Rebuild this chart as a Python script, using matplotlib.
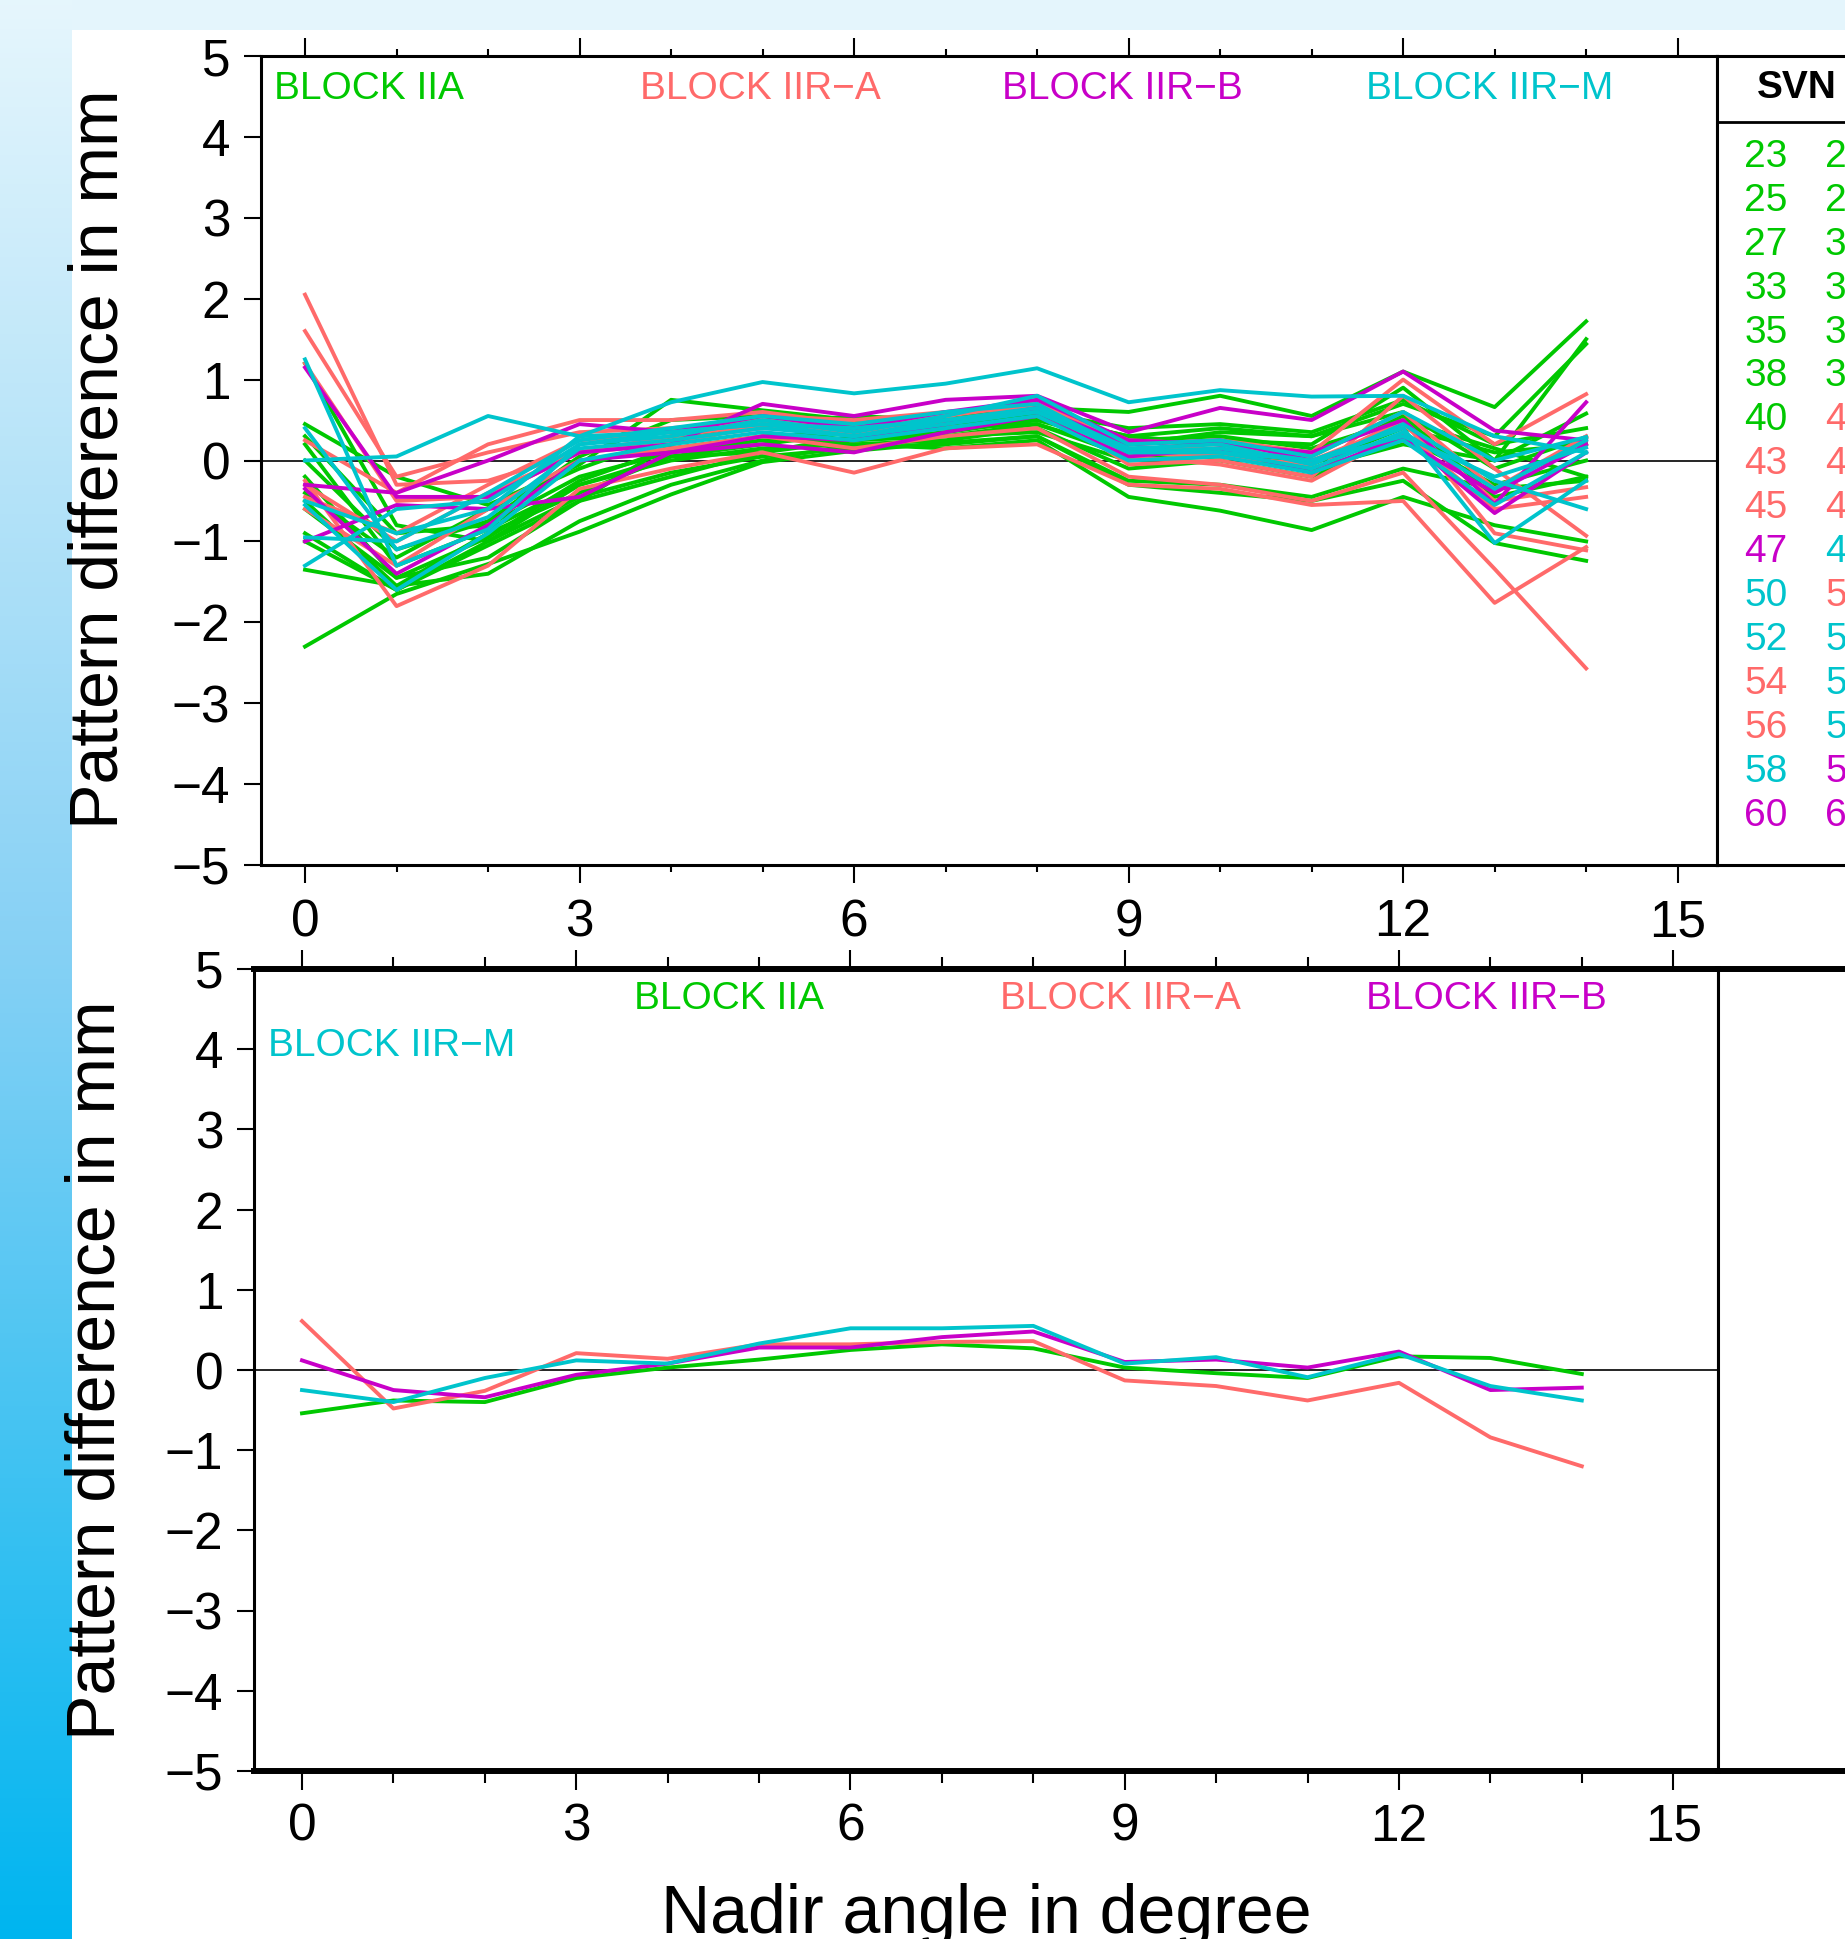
import matplotlib
matplotlib.use("Agg")
import matplotlib.pyplot as plt
import numpy as np
from matplotlib.patches import Rectangle

plt.rcParams['font.family'] = ['Liberation Sans', 'DejaVu Sans']

# nadir angles (deg)
nadir = list(range(15))

# block colours
block_colors = {"IIA": "#00c800", "IIR-A": "#ff6a6a", "IIR-B": "#c800c8", "IIR-M": "#00c4cc"}

# satellites shown in the top panel, with their block and pattern difference (mm)
svn_ids = [23, 24, 25, 26, 27, 30, 33, 34, 35, 36, 38, 39, 40,
           41, 43, 44, 45, 46, 51, 54, 56,
           47, 59, 60, 61,
           48, 50, 52, 53, 55, 57, 58]
svn_blocks = ["IIA"] * 13 + ["IIR-A"] * 8 + ["IIR-B"] * 4 + ["IIR-M"] * 7
svn_diff = [
    [-2.30, -1.65, -1.28, -0.88, -0.42, -0.02, 0.12, 0.22, 0.30, -0.30, -0.40, -0.50, -0.25, -1.02, -1.24],
    [0.45, -0.20, -0.55, -0.05, 0.75, 0.62, 0.50, 0.55, 0.65, 0.60, 0.80, 0.55, 1.10, 0.66, 1.72],
    [1.20, -0.80, -1.00, -0.30, 0.05, 0.20, 0.35, 0.40, 0.45, 0.10, 0.25, 0.20, 0.90, 0.00, 1.50],
    [0.30, -0.90, -0.80, -0.20, 0.10, 0.25, 0.25, 0.35, 0.50, 0.20, 0.35, 0.30, 0.70, 0.30, 1.44],
    [-0.50, -1.55, -1.40, -0.75, -0.30, 0.00, 0.20, 0.15, 0.25, -0.45, -0.62, -0.86, -0.45, -0.80, -1.00],
    [-1.35, -1.55, -0.90, -0.40, 0.05, 0.10, 0.30, 0.30, 0.35, 0.00, 0.05, -0.10, 0.20, 0.00, 0.58],
    [-0.40, -1.20, -0.60, -0.10, 0.30, 0.40, 0.45, 0.45, 0.55, 0.30, 0.40, 0.30, 0.60, -0.10, 0.29],
    [-0.20, -1.45, -0.95, -0.25, 0.15, 0.30, 0.35, 0.40, 0.50, 0.25, 0.30, 0.15, 0.50, 0.15, -0.20],
    [0.20, -1.30, -0.85, -0.30, 0.00, 0.15, 0.20, 0.25, 0.40, -0.10, 0.00, -0.20, 0.30, -0.30, 0.00],
    [-0.90, -1.60, -1.00, -0.45, -0.15, 0.05, 0.15, 0.20, 0.30, -0.25, -0.30, -0.45, -0.10, -0.35, -0.25],
    [-1.00, -1.60, -1.05, -0.50, -0.20, 0.10, 0.25, 0.30, 0.45, 0.05, 0.10, -0.05, 0.40, 0.10, 0.20],
    [0.00, -1.10, -0.75, 0.05, 0.50, 0.55, 0.40, 0.45, 0.60, 0.40, 0.45, 0.35, 0.75, 0.20, 0.40],
    [-0.60, -1.45, -1.20, -0.50, 0.20, 0.45, 0.55, 0.50, 0.55, 0.30, 0.20, 0.10, 0.55, -0.45, -0.20],
    [2.05, -0.30, -0.25, 0.10, 0.25, 0.40, 0.35, 0.45, 0.65, 0.15, 0.15, 0.00, 0.45, -0.50, -0.33],
    [1.60, -0.20, 0.10, 0.35, 0.40, 0.50, 0.40, 0.55, 0.75, 0.20, 0.25, 0.10, 1.00, 0.20, 0.82],
    [1.20, -0.50, -0.45, 0.10, 0.30, 0.45, 0.35, 0.45, 0.70, -0.05, 0.00, -0.20, 0.80, -0.10, -0.93],
    [-0.25, -1.80, -1.30, -0.35, -0.10, 0.10, -0.15, 0.15, 0.20, -0.30, -0.35, -0.55, -0.50, -1.76, -1.07],
    [-0.30, -1.00, -0.40, 0.10, 0.20, 0.45, 0.40, 0.55, 0.75, 0.10, 0.05, -0.05, 0.50, -0.90, -1.11],
    [-0.60, -1.30, -0.60, 0.00, 0.15, 0.30, 0.15, 0.30, 0.40, -0.20, -0.30, -0.50, -0.15, -1.34, -2.57],
    [0.25, -0.40, 0.20, 0.50, 0.50, 0.60, 0.45, 0.55, 0.70, 0.25, 0.20, 0.05, 0.60, -0.35, 0.30],
    [-0.45, -0.90, -0.30, 0.25, 0.35, 0.55, 0.50, 0.60, 0.65, 0.05, -0.05, -0.25, 0.35, -0.60, -0.45],
    [1.15, -0.45, -0.45, 0.10, 0.20, 0.70, 0.55, 0.75, 0.80, 0.35, 0.65, 0.50, 1.10, 0.37, 0.25],
    [-0.30, -0.40, 0.00, 0.45, 0.35, 0.55, 0.40, 0.60, 0.75, 0.25, 0.20, 0.10, 0.50, -0.54, 0.72],
    [-1.00, -0.55, -0.60, -0.45, 0.10, 0.20, 0.10, 0.35, 0.55, 0.05, 0.15, -0.15, 0.30, -0.65, 0.10],
    [-0.35, -1.40, -0.80, 0.00, 0.10, 0.30, 0.25, 0.45, 0.65, 0.20, 0.25, 0.00, 0.25, -0.40, 0.20],
    [1.25, -1.30, -0.85, 0.20, 0.30, 0.50, 0.35, 0.55, 0.80, 0.20, 0.25, 0.05, 0.60, 0.00, 0.29],
    [0.00, 0.05, 0.55, 0.30, 0.35, 0.45, 0.30, 0.50, 0.60, 0.15, 0.10, 0.00, 0.30, -0.20, 0.16],
    [-0.95, -1.00, -0.40, 0.25, 0.40, 0.55, 0.45, 0.60, 0.70, 0.10, 0.15, 0.00, 0.40, -1.02, -0.25],
    [-1.30, -0.60, -0.50, 0.20, 0.35, 0.45, 0.40, 0.50, 0.65, 0.15, 0.20, -0.05, 0.45, -0.25, -0.60],
    [0.40, -1.10, -0.70, 0.15, 0.25, 0.40, 0.30, 0.45, 0.60, 0.10, 0.10, -0.10, 0.35, -0.35, 0.25],
    [-0.55, -1.60, -0.90, 0.00, 0.20, 0.35, 0.25, 0.40, 0.55, 0.00, 0.05, -0.15, 0.25, -0.55, 0.10],
    [-0.50, -0.90, -0.60, 0.30, 0.72, 0.97, 0.83, 0.95, 1.14, 0.72, 0.87, 0.79, 0.80, 0.30, 0.10],
]

# legend table (two columns of SVNs)
legend_col1 = [23, 25, 27, 33, 35, 38, 40, 43, 45, 47, 50, 52, 54, 56, 58, 60]
legend_col1_blocks = ["IIA"] * 7 + ["IIR-A", "IIR-A", "IIR-B", "IIR-M", "IIR-M", "IIR-A", "IIR-A", "IIR-M", "IIR-B"]
legend_col2 = [24, 26, 30, 34, 36, 39, 41, 44, 46, 48, 51, 53, 55, 57, 59, 61]
legend_col2_blocks = ["IIA"] * 6 + ["IIR-A", "IIR-A", "IIR-A", "IIR-M", "IIR-A", "IIR-M", "IIR-M", "IIR-M", "IIR-B", "IIR-B"]

# block means, bottom panel (mm)
block_names = ["IIA", "IIR-A", "IIR-B", "IIR-M"]
block_mean = [
    [-0.54, -0.38, -0.40, -0.10, 0.03, 0.13, 0.25, 0.32, 0.27, 0.03, -0.04, -0.10, 0.17, 0.15, -0.05],
    [0.61, -0.48, -0.26, 0.21, 0.14, 0.32, 0.32, 0.35, 0.36, -0.13, -0.20, -0.38, -0.16, -0.84, -1.20],
    [0.12, -0.25, -0.34, -0.06, 0.08, 0.28, 0.28, 0.41, 0.48, 0.10, 0.13, 0.03, 0.23, -0.25, -0.22],
    [-0.25, -0.40, -0.10, 0.12, 0.08, 0.33, 0.52, 0.52, 0.55, 0.08, 0.16, -0.09, 0.20, -0.20, -0.38],
]

W, H = 1845, 1939
fig = plt.figure(figsize=(W / 100, H / 100), dpi=100)
fig.patch.set_facecolor("white")


def box(l, t, r, b):
    return [l / W, 1 - b / H, (r - l) / W, (b - t) / H]


# slide background: light strip on top, blue gradient on the left
bg = fig.add_axes([0, 0, 1, 1], zorder=-10)
bg.set_xlim(0, W)
bg.set_ylim(H, 0)
bg.axis("off")
stops = np.array([0.0, 0.485, 1.0])
cols = np.array([[0.90, 0.965, 0.99], [0.53, 0.82, 0.96], [0.0, 0.71, 0.94]])
yy = np.linspace(0, 1, 400)
grad = np.stack([np.interp(yy, stops, cols[:, k]) for k in range(3)], axis=1)[:, None, :]
bg.imshow(grad, extent=(0, 72, H, 0), aspect="auto")
bg.add_patch(Rectangle((72, 0), W - 72, 30, color="#e4f5fc", lw=0))


def style_axes(ax, spine_tb, major_len, minor_len, xpad, xlim):
    ax.set_xlim(*xlim)
    ax.set_ylim(-5, 5)
    ax.set_xticks(range(0, 16, 3))
    ax.set_xticks(range(0, 16), minor=True)
    ax.set_yticks(range(-5, 6))
    ax.tick_params(axis="x", which="major", direction="out", top=True, bottom=True,
                   length=major_len, width=1.5, labelsize=37, pad=xpad)
    ax.tick_params(axis="x", which="minor", direction="out", top=True, bottom=True,
                   length=minor_len, width=1.5)
    ax.tick_params(axis="y", direction="out", length=12, width=1.5, labelsize=37, pad=10)
    for s in ["left", "right"]:
        ax.spines[s].set_linewidth(2.2)
    for s in ["top", "bottom"]:
        ax.spines[s].set_linewidth(spine_tb)
    ax.axhline(0, color="black", lw=1.2, zorder=1)


# ---- top panel: individual satellites
ax1 = fig.add_axes(box(261, 56, 1717, 865))
style_axes(ax1, 2.2, 13, 5, 11, (-0.481, 15.43))
for vals, blk in zip(svn_diff, svn_blocks):
    ax1.plot(nadir, vals, color=block_colors[blk], lw=2.8, zorder=2)

top_labels_x = [369, 760, 1122, 1490]
for name, xp in zip(block_names, top_labels_x):
    fig.text(xp / W, 1 - 89 / H, "BLOCK " + name.replace("-", "\u2212"),
             color=block_colors[name], fontsize=28, ha="center", va="center")

# legend table beside the top panel
leg1 = fig.add_axes(box(1717, 56, 1960, 865))
leg1.set_xticks([])
leg1.set_yticks([])
for s in leg1.spines.values():
    s.set_linewidth(2.2)
leg1.axhline(1 - 66 / 809, color="black", lw=2.0)
fig.text(1797 / W, 1 - 88 / H, "SVN", fontsize=28, fontweight="bold", ha="center", va="center")
for i in range(len(legend_col1)):
    yp = 1 - (157 + 43.9 * i) / H
    fig.text(1766 / W, yp, str(legend_col1[i]), color=block_colors[legend_col1_blocks[i]],
             fontsize=28, ha="center", va="center")
    fig.text(1825 / W, yp, str(legend_col2[i]), color=block_colors[legend_col2_blocks[i]],
             fontsize=28, ha="left", va="center")

# ---- bottom panel: block means
ax2 = fig.add_axes(box(254, 969, 1718, 1771))
style_axes(ax2, 4.3, 14, 8.5, 9, (-0.525, 15.49))
for vals, name in zip(block_mean, block_names):
    ax2.plot(nadir, vals, color=block_colors[name], lw=2.8, zorder=2)

bottom_labels = [(729, 999), (1120, 999), (1486, 999), (392, 1046)]
for name, (xp, yp) in zip(block_names, bottom_labels):
    fig.text(xp / W, 1 - yp / H, "BLOCK " + name.replace("-", "\u2212"),
             color=block_colors[name], fontsize=28, ha="center", va="center")

leg2 = fig.add_axes(box(1718, 969, 1960, 1771))
leg2.set_xticks([])
leg2.set_yticks([])
leg2.spines["left"].set_linewidth(2.2)
for s in ["top", "bottom"]:
    leg2.spines[s].set_linewidth(4.3)

# axis titles
fig.text(100 / W, 1 - 459 / H, "Pattern difference in mm", rotation=90,
         fontsize=49, ha="center", va="center")
fig.text(97 / W, 1 - 1370 / H, "Pattern difference in mm", rotation=90,
         fontsize=49, ha="center", va="center")
fig.text(986 / W, 1 - 1933 / H, "Nadir angle in degree", fontsize=49,
         ha="center", va="baseline")

fig.savefig("out.png", dpi=100)
